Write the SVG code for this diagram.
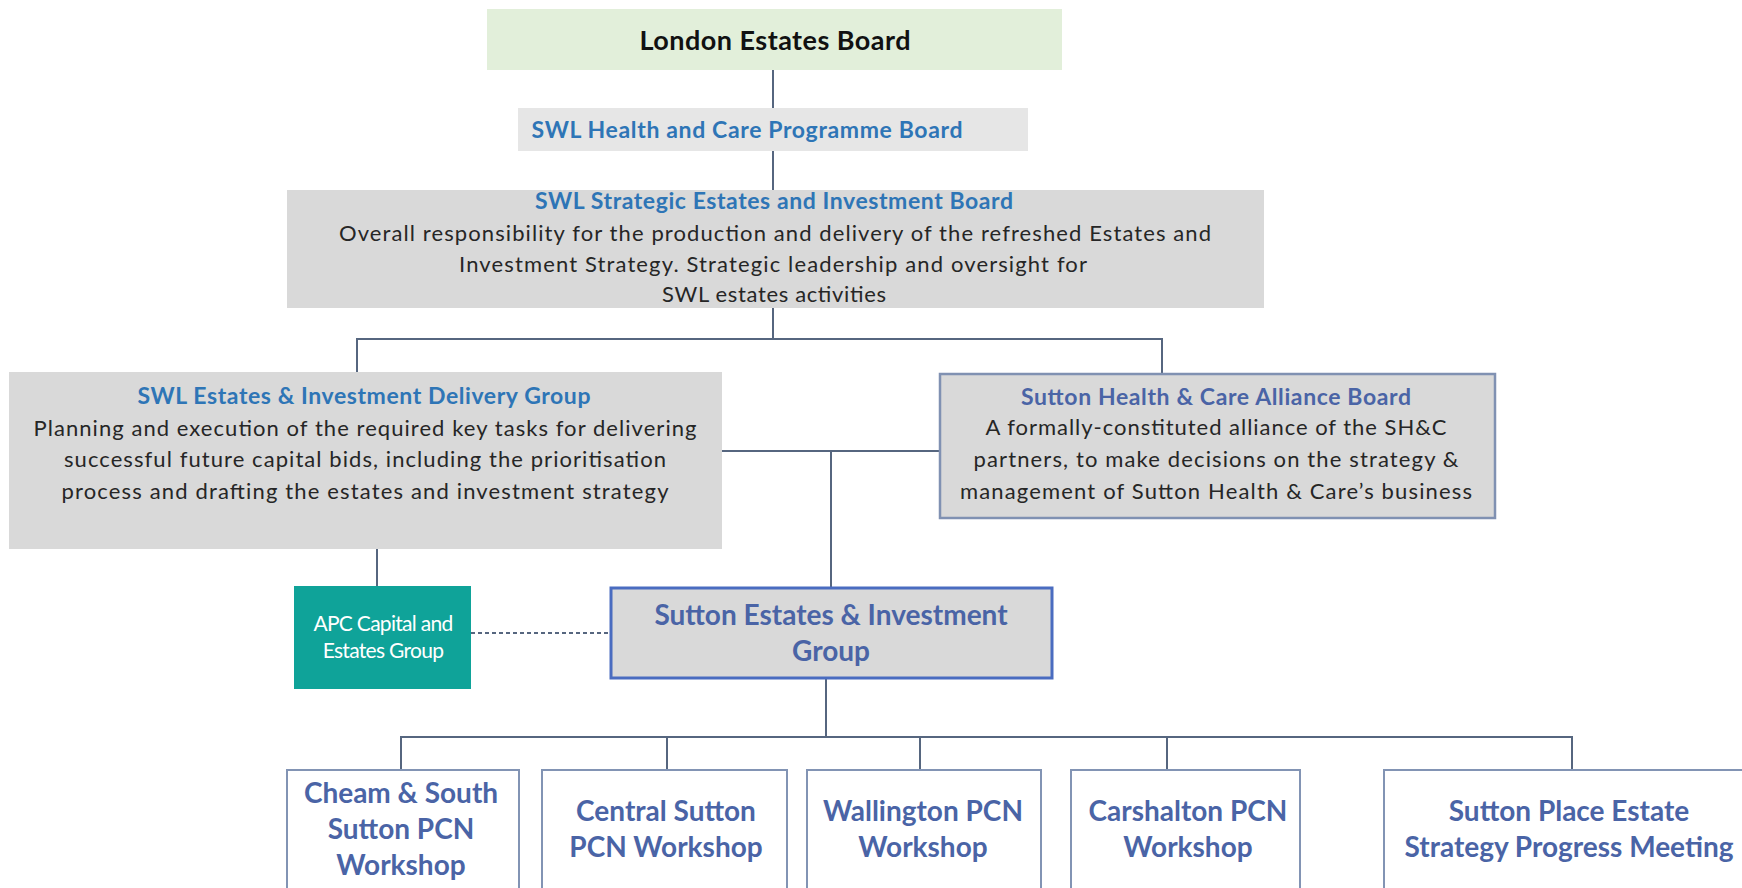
<svg xmlns="http://www.w3.org/2000/svg" width="1742" height="888" viewBox="0 0 1742 888">
  <style>
    text { font-family: Lato, "Open Sans", "Liberation Sans", sans-serif; text-anchor: middle; }
    .ttl { font-weight: bold; fill: #2e75b6; font-size: 23px; }
    .ttl2 { font-weight: bold; fill: #4a64a6; font-size: 23px; }
    .body { fill: #262626; font-size: 22px; }
    .big { font-weight: bold; fill: #4a64a6; font-size: 28px; }
    .grey { fill: #d9d9d9; }
    .ws { fill: #ffffff; stroke: #8294b4; stroke-width: 2; }
    .ln { stroke: #56667f; stroke-width: 2; fill: none; }
  </style>

  <!-- connectors -->
  <g id="connectors">
    <path class="ln" d="M773 70 V108 M773 151 V190"/>
    <path class="ln" d="M773 308 V339 M357 372 V339 H1162 V373"/>
    <path class="ln" d="M722 451 H939 M831 451 V587"/>
    <path class="ln" d="M377 549 V586"/>
    <path class="ln" stroke="#8a99b4" stroke-dasharray="4 3" d="M471 633 H610"/>
    <path class="ln" d="M826 678 V737 M401 770 V737 H1572 V770 M667 737 V770 M920 737 V770 M1167 737 V770"/>
  </g>

  <g id="london-estates-board">
    <rect x="487" y="9" width="575" height="61" fill="#e2efda"/>
    <text x="775" y="50" font-weight="bold" font-size="27" fill="#111" textLength="271">London Estates Board</text>
  </g>

  <g id="swl-programme-board">
    <rect x="518" y="108" width="510" height="43" fill="#e6e6e6"/>
    <text class="ttl" x="747" y="138" textLength="431">SWL Health and Care Programme Board</text>
  </g>

  <g id="swl-strategic-board">
    <rect class="grey" x="287" y="190" width="977" height="118"/>
    <text class="ttl" x="774" y="209" textLength="478">SWL Strategic Estates and Investment Board</text>
    <text class="body" x="775" y="241" textLength="872">Overall responsibility  for the production and delivery of the refreshed Estates and</text>
    <text class="body" x="773" y="272" textLength="628">Investment Strategy. Strategic leadership and oversight for</text>
    <text class="body" x="774" y="302" textLength="224">SWL estates activities</text>
  </g>

  <g id="swl-delivery-group">
    <rect class="grey" x="9" y="372" width="713" height="177"/>
    <text class="ttl" x="364" y="404" textLength="453">SWL Estates &amp; Investment Delivery Group</text>
    <text class="body" x="365" y="436" textLength="663">Planning and execution of the required key tasks for delivering</text>
    <text class="body" x="365" y="467" textLength="602">successful future capital bids, including the prioritisation</text>
    <text class="body" x="365" y="499" textLength="607">process and drafting the estates and investment strategy</text>
  </g>

  <g id="sutton-alliance-board">
    <rect x="940" y="374" width="555" height="144" fill="#d9d9d9" stroke="#8091b2" stroke-width="2.5"/>
    <text class="ttl2" x="1216" y="405" textLength="390">Sutton Health &amp; Care Alliance Board</text>
    <text class="body" x="1216" y="435" textLength="461">A formally-constituted  alliance of the SH&amp;C</text>
    <text class="body" x="1216" y="467" textLength="485">partners, to make decisions on the strategy &amp;</text>
    <text class="body" x="1216" y="499" textLength="512">management  of Sutton Health &amp; Care’s business</text>
  </g>

  <g id="apc-group">
    <rect x="294" y="586" width="177" height="103" fill="#0fa399"/>
    <text x="383" y="631" fill="#ffffff" font-size="21" letter-spacing="-0.7">APC Capital and</text>
    <text x="383" y="658" fill="#ffffff" font-size="21" letter-spacing="-0.7">Estates Group</text>
  </g>

  <g id="sutton-estates-group">
    <rect x="611" y="588" width="441" height="90" fill="#d9d9d9" stroke="#4a6cc0" stroke-width="3"/>
    <text class="big" x="831" y="625">Sutton Estates &amp; Investment</text>
    <text class="big" x="831" y="661">Group</text>
  </g>

  <g id="cheam-south-workshop">
    <rect class="ws" x="287" y="770" width="232" height="130"/>
    <text class="big" x="401" y="803">Cheam &amp; South</text>
    <text class="big" x="401" y="839">Sutton PCN</text>
    <text class="big" x="401" y="875">Workshop</text>
  </g>

  <g id="central-sutton-workshop">
    <rect class="ws" x="542" y="770" width="245" height="130"/>
    <text class="big" x="666" y="821">Central Sutton</text>
    <text class="big" x="666" y="857">PCN Workshop</text>
  </g>

  <g id="wallington-workshop">
    <rect class="ws" x="807" y="770" width="234" height="130"/>
    <text class="big" x="923" y="821">Wallington PCN</text>
    <text class="big" x="923" y="857">Workshop</text>
  </g>

  <g id="carshalton-workshop">
    <rect class="ws" x="1071" y="770" width="229" height="130"/>
    <text class="big" x="1188" y="821">Carshalton PCN</text>
    <text class="big" x="1188" y="857">Workshop</text>
  </g>

  <g id="sutton-place-meeting">
    <rect class="ws" x="1384" y="770" width="370" height="130"/>
    <text class="big" x="1569" y="821">Sutton Place Estate</text>
    <text class="big" x="1569" y="857">Strategy Progress Meeting</text>
  </g>
</svg>
